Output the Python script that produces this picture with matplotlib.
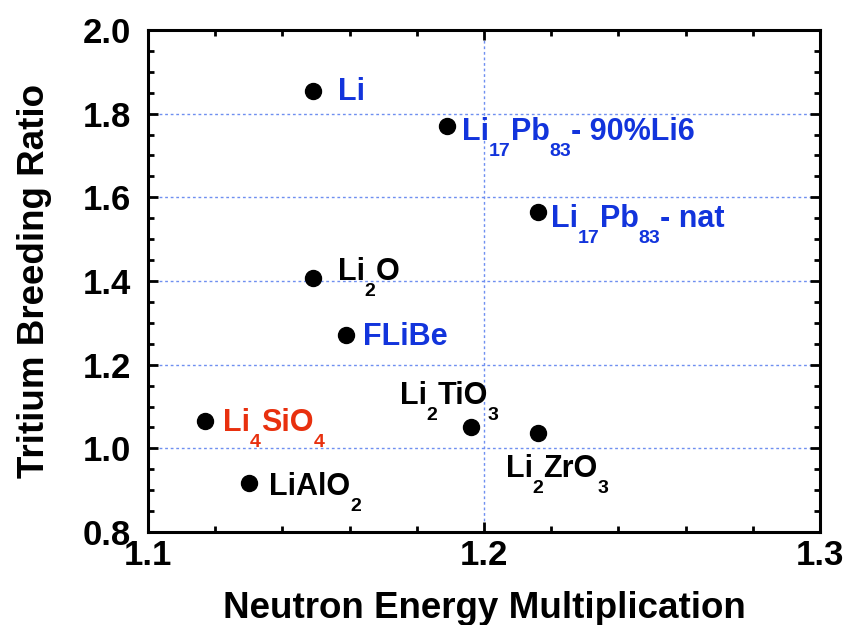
import re
import matplotlib.pyplot as plt
from matplotlib.ticker import MultipleLocator

plt.rcParams['font.family'] = 'Liberation Sans'
plt.rcParams['font.weight'] = 'bold'

# Breeder materials: neutron energy multiplication vs tritium breeding ratio
# ("_n" marks a subscript)
materials = ['Li', 'Li_17Pb_83- 90%Li6', 'Li_17Pb_83- nat', 'Li_2O',
             'FLiBe', 'Li_4SiO_4', 'Li_2TiO_3', 'Li_2ZrO_3', 'LiAlO_2']
energy_mult = [1.149, 1.189, 1.216, 1.149, 1.159, 1.117, 1.196, 1.216, 1.130]
tbr = [1.854, 1.771, 1.564, 1.406, 1.271, 1.066, 1.052, 1.037, 0.916]

blue = '#1234DC'
red = '#E8300E'
label_colors = [blue, blue, blue, 'black', blue, red, 'black', 'black', 'black']
# label offsets (pixels) of the first letter's baseline from the point
label_offsets = [(25, -9), (15, -14), (13, -15), (25, -2), (17, -10),
                 (18, -10), (-71, 23), (-32, -44), (20, -12)]

MAIN_SIZE = 22
SUB_SIZE = 14


def formula_label(ax, x, y, text, offset, color):
    # draw "Li_2O" style text with low, small subscripts, piece by piece
    pieces = re.split(r'_(\d+)', text)
    first = ax.annotate(pieces[0], (x, y), xytext=offset, textcoords='offset pixels',
                        color=color, fontsize=MAIN_SIZE, fontweight='bold',
                        va='baseline', ha='left')
    prev = first
    for i, piece in enumerate(pieces[1:], start=1):
        if not piece:
            continue
        if i % 2 == 1:
            t = ax.annotate(piece, xy=(1, 0), xycoords=(prev, first),
                            xytext=(0, 4), textcoords='offset pixels',
                            color=color, fontsize=SUB_SIZE, fontweight='bold',
                            va='top', ha='left')
        else:
            t = ax.annotate(piece, xy=(1, 0), xycoords=(prev, first),
                            color=color, fontsize=MAIN_SIZE, fontweight='bold',
                            va='bottom', ha='left')
        prev = t


fig = plt.figure(figsize=(8.48, 6.25), dpi=100)
ax = fig.add_axes([0.1745, 0.1488, 0.7925, 0.8032])

ax.plot(energy_mult, tbr, 'o', color='black', markersize=11.5, zorder=3)

for name, x, y, c, off in zip(materials, energy_mult, tbr, label_colors, label_offsets):
    formula_label(ax, x, y, name, off, c)

ax.set_xlim(1.1, 1.3)
ax.set_ylim(0.8, 2.0)
ax.xaxis.set_major_locator(MultipleLocator(0.1))
ax.xaxis.set_minor_locator(MultipleLocator(0.02))
ax.yaxis.set_major_locator(MultipleLocator(0.2))
ax.yaxis.set_minor_locator(MultipleLocator(0.05))

ax.grid(True, which='major', color='#6f8ff0', linestyle=(0, (2, 2)), linewidth=1.0)

for s in ax.spines.values():
    s.set_linewidth(2.2)
ax.tick_params(which='both', direction='in', top=True, right=True, width=2)
ax.tick_params(which='major', length=7, labelsize=25)
ax.tick_params(axis='x', which='major', pad=5)
ax.tick_params(axis='y', which='major', pad=12)
ax.tick_params(which='minor', length=4)
for lab in ax.get_xticklabels() + ax.get_yticklabels():
    lab.set_fontweight('bold')

ax.set_xlabel('Neutron Energy Multiplication', fontsize=26.5, fontweight='bold', labelpad=14)
ax.set_ylabel('Tritium Breeding Ratio', fontsize=26.5, fontweight='bold', labelpad=22)

fig.savefig('out.png', dpi=100)
